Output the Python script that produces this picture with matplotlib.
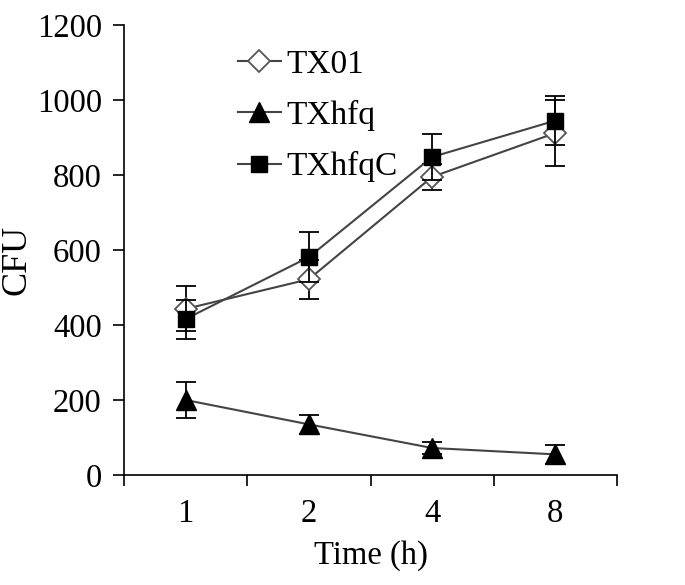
import matplotlib
matplotlib.use("Agg")
import matplotlib.pyplot as plt
import numpy as np

categories = ["1", "2", "4", "8"]
tx01 = [443, 522, 795, 912]
tx01_err = [60, 52, 35, 87]
txhfq = [200, 135, 72, 55]
txhfq_err = [48, 25, 15, 25]
txhfqc = [416, 581, 848, 945]
txhfqc_err = [52, 66, 61, 66]

plt.rcParams['font.family'] = ['Liberation Serif', 'DejaVu Serif']

fig = plt.figure(figsize=(6.85, 5.85), dpi=100)
ax = fig.add_axes([124/685, 1-475/585, (617-124)/685, (475-25)/585])

x = np.arange(len(categories))
lc = '#444444'
ax.errorbar(x, tx01, yerr=tx01_err, color=lc, lw=1.5, marker='D', ms=11,
            mfc='white', mec='#555555', mew=1.3, ecolor='black', elinewidth=1.3,
            capsize=7, capthick=1.3, label='TX01', zorder=2)
ax.errorbar(x, txhfq, yerr=txhfq_err, color=lc, lw=1.5, marker='^', ms=15,
            mfc='black', mec='black', ecolor='black', elinewidth=1.3,
            capsize=7, capthick=1.3, label='TXhfq', zorder=3)
ax.errorbar(x, txhfqc, yerr=txhfqc_err, color=lc, lw=1.5, marker='s', ms=11.5,
            mfc='black', mec='black', ecolor='black', elinewidth=1.3,
            capsize=7, capthick=1.3, label='TXhfqC', zorder=4)

ax.set_xlim(-0.5, 3.5)
ax.set_ylim(0, 1200)
ax.set_yticks(np.arange(0, 1201, 200))
ax.set_xticks(np.arange(-0.5, 3.6, 1))
ax.set_xticklabels([])
ax.set_xticks(x, minor=True)
ax.set_xticklabels(categories, minor=True)
ax.tick_params(axis='x', which='major', length=8, width=1.2, direction='out')
ax.tick_params(axis='x', which='minor', length=0, pad=17, labelsize=23.5)
ax.tick_params(axis='y', length=8, width=1.2, direction='out', pad=8, labelsize=23.5)

for s in ['top', 'right']:
    ax.spines[s].set_visible(False)
for s in ['left', 'bottom']:
    ax.spines[s].set_linewidth(1.2)

ax.set_ylabel('CFU', fontsize=26, ha='center', va='center')
ax.yaxis.set_label_coords((17 - 124) / 493, (475 - 260) / 450)
ax.set_xlabel('Time (h)', fontsize=23.5, labelpad=8)

handles, labels = ax.get_legend_handles_labels()
handles = [h[0] for h in handles]
leg = ax.legend(handles, labels, loc='upper left', bbox_to_anchor=(0.17, 1.012),
                frameon=False, fontsize=24, handlelength=1.3, handletextpad=0.15,
                labelspacing=0.6, numpoints=1)

fig.savefig('out.png', dpi=100)
